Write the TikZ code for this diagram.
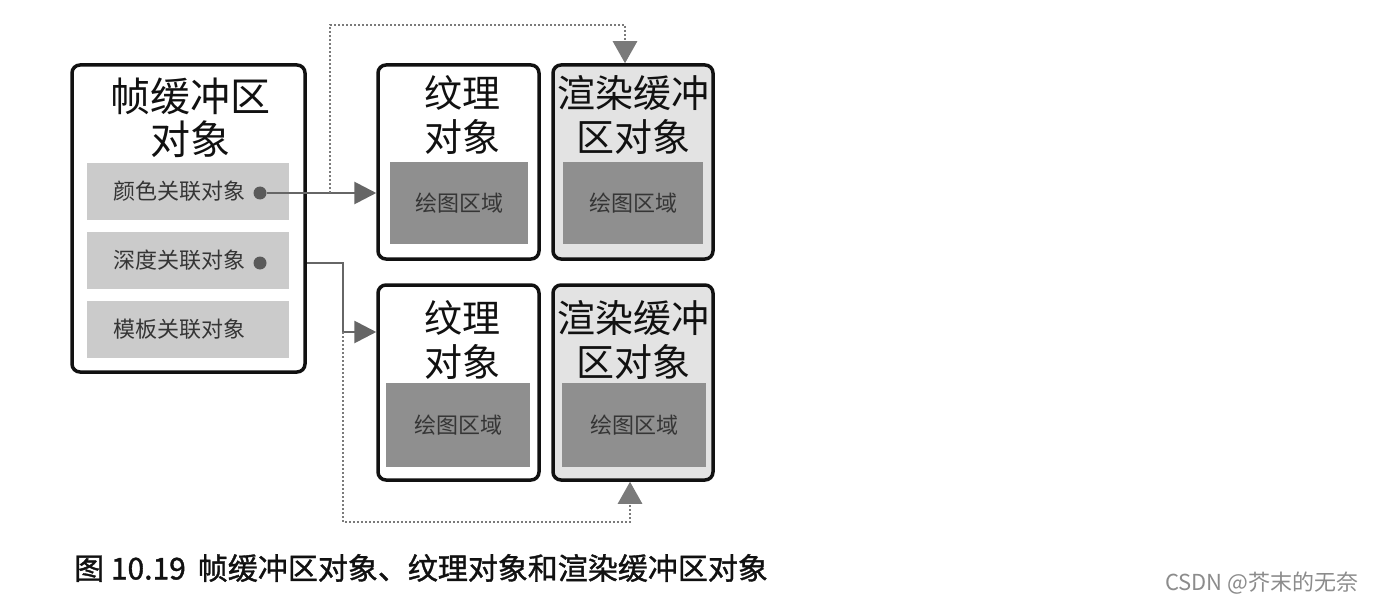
\documentclass[tikz,border=0pt]{standalone}
\usepackage{fontspec}
\setmainfont{Noto Sans CJK SC}
\newfontfamily\capfont[AutoFakeBold=1.2]{Noto Sans CJK SC}
\usetikzlibrary{arrows.meta,positioning,calc}
\definecolor{ink}{HTML}{111111}
\definecolor{pale}{HTML}{CBCBCB}
\definecolor{shade}{HTML}{8F8F8F}
\definecolor{rbfill}{HTML}{E3E3E3}
\definecolor{wire}{HTML}{666666}
\definecolor{dotline}{HTML}{7A7A7A}
\definecolor{mark}{HTML}{5A5A5A}
\tikzset{
  objbox/.style={rectangle, rounded corners=8pt, draw=ink, fill=white, line width=3.5pt, inner sep=0pt},
  rbbox/.style={objbox, fill=rbfill},
  headtxt/.style={align=center, font=\fontsize{38}{44}\selectfont, text=ink, inner sep=0pt},
  attbox/.style={rectangle, fill=pale, minimum height=57pt, text width=150pt, inner xsep=26pt,
                 align=left, font=\fontsize{22}{26}\selectfont, text=ink!85},
  drawarea/.style={rectangle, fill=shade, font=\fontsize{22}{26}\selectfont, text=ink!85},
  flow/.style={-{Triangle[length=22pt,width=22pt]}, draw=wire, line width=2.8pt},
  feed/.style={-{Triangle[length=22pt,width=24pt]}, draw=dotline, line width=2.6pt,
               dash pattern=on 2pt off 2pt},
  dotmark/.style={circle, fill=mark, inner sep=0pt, minimum size=13pt}
}
\begin{document}
\begin{tikzpicture}[x=1pt,y=-1pt]
  \useasboundingbox[fill=white] (0,0) rectangle (1380,604);
  % framebuffer object with its attachment points
  \node[objbox, minimum width=233pt, minimum height=307pt] (fbo) at (188.5,218.5) {};
  \node[headtxt, font=\fontsize{40}{43}\selectfont] (fbohead) at (190,118) {帧缓冲区\\对象};
  \node[attbox] (color) at (188,191.5) {颜色关联对象};
  \node[attbox] (depth) at (188,260.5) {深度关联对象};
  \node[attbox] (stencil) at (188,329.5) {模板关联对象};
  \node[dotmark] (cdot) at (260,193) {};
  \node[dotmark] (ddot) at (260,263) {};
  % texture objects and renderbuffer objects
  \node[objbox, minimum width=161pt, minimum height=194pt] (tex1) at (458.5,162) {};
  \node[headtxt] (tex1head) at (462,115) {纹理\\对象};
  \node[drawarea, minimum width=138pt, minimum height=82pt] (tex1area) at (459,203) {绘图区域};
  \node[rbbox, minimum width=160pt, minimum height=194pt] (rb1) at (633,162) {};
  \node[headtxt] (rb1head) at (633,115) {渲染缓冲\\区对象};
  \node[drawarea, minimum width=140pt, minimum height=82pt] (rb1area) at (633,203) {绘图区域};
  \node[objbox, minimum width=161pt, minimum height=195pt] (tex2) at (458.5,382.5) {};
  \node[headtxt] (tex2head) at (462,340) {纹理\\对象};
  \node[drawarea, minimum width=144pt, minimum height=84pt] (tex2area) at (458,425) {绘图区域};
  \node[rbbox, minimum width=160pt, minimum height=195pt] (rb2) at (633,382.5) {};
  \node[headtxt] (rb2head) at (633,340) {渲染缓冲\\区对象};
  \node[drawarea, minimum width=144pt, minimum height=84pt] (rb2area) at (634,425) {绘图区域};
  % connectors
  \coordinate (tap1) at (330,193);
  \coordinate (top) at (330,25);
  \coordinate (tap2) at (343,332);
  \coordinate (bottom) at (343,522);
  \draw[flow] (cdot) -- (cdot -| tex1.west);
  \draw[flow] (ddot -| fbo.east) -| (tap2) -- (tap2 -| tex2.west);
  \draw[feed] (tap1) -- (top) -| ([xshift=-8pt]rb1.north);
  \draw[feed] (tap2) -- (bottom) -| ([xshift=-3pt]rb2.south);
  % caption and watermark
  \node[anchor=west, inner sep=0pt, text=ink, font=\capfont\bfseries\fontsize{30}{33}\selectfont] (caption) at (74,568)
    {图 10.19\hspace{12pt}帧缓冲区对象、纹理对象和渲染缓冲区对象};
  \node[anchor=west, inner sep=0pt, text=black!45, font=\fontsize{22}{24}\selectfont] (mark) at (1165,583)
    {CSDN @芥末的无奈};
\end{tikzpicture}
\end{document}
